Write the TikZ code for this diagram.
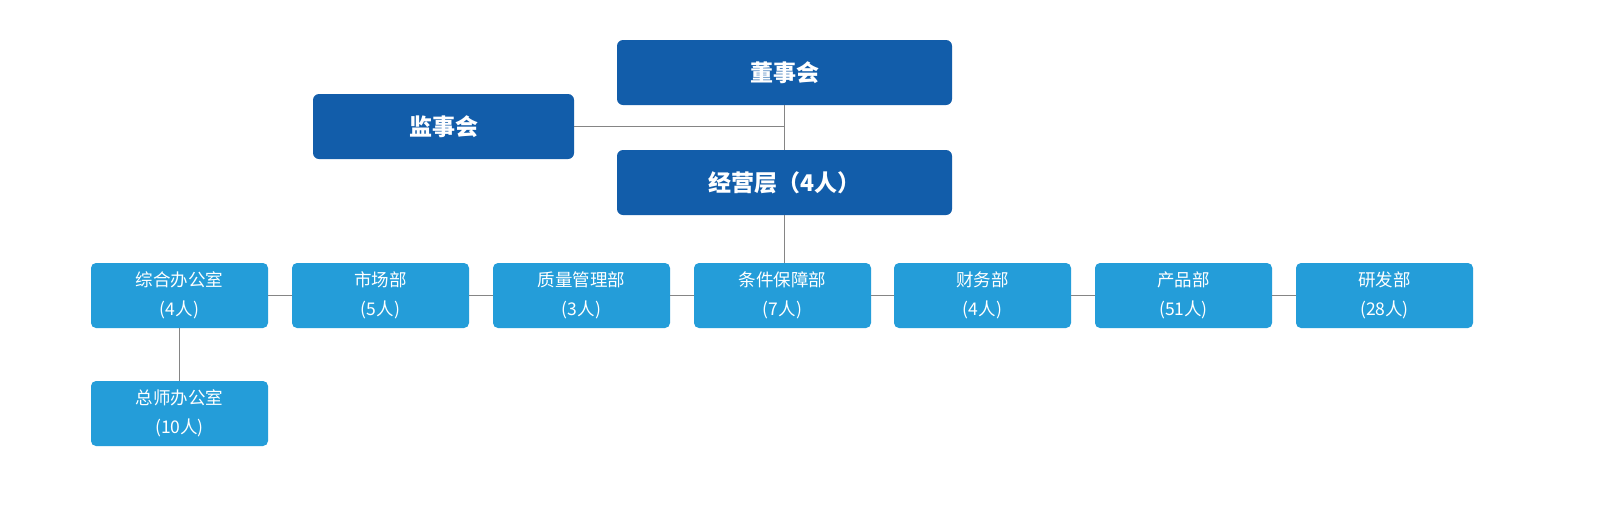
\documentclass[tikz,border=0pt]{standalone}
\usepackage{fontspec}
\newfontfamily\cjk{Noto Sans CJK SC}
\usetikzlibrary{positioning}
\definecolor{dblue}{HTML}{125DAA}
\definecolor{lblue}{HTML}{249DD9}
\definecolor{lgray}{HTML}{858585}
\begin{document}
\begin{tikzpicture}[x=1pt,y=-1pt,
  topbox/.style={fill=dblue,rounded corners=6pt,minimum width=335pt,minimum height=65pt,text=white,font=\cjk\bfseries\fontsize{23}{27}\selectfont,inner sep=0pt},
  depbox/.style={fill=lblue,rounded corners=5pt,minimum width=177pt,minimum height=65pt,text=white,font=\cjk\fontsize{17.5}{28.5}\selectfont,align=center,inner sep=0pt},
  link/.style={draw=lgray,line width=1pt}]
\useasboundingbox[fill=white] (0,0) rectangle (1600,504);
\node[topbox] (dsh) at (784.5,72.5) {董事会};
\node[topbox,minimum width=261pt] (jsh) at (443.5,126.5) {监事会};
\node[topbox] (jyc) at (784.5,182.5) {经营层（4人）};
\node[depbox] (b1) at (179.5,295.5) {综合办公室\\(4人)};
\node[depbox] (b2) at (380.5,295.5) {市场部\\(5人)};
\node[depbox] (b3) at (581.5,295.5) {质量管理部\\(3人)};
\node[depbox] (b4) at (782.5,295.5) {条件保障部\\(7人)};
\node[depbox] (b5) at (982.5,295.5) {财务部\\(4人)};
\node[depbox] (b6) at (1183.5,295.5) {产品部\\(51人)};
\node[depbox] (b7) at (1384.5,295.5) {研发部\\(28人)};
\node[depbox] (b8) at (179.5,413.5) {总师办公室\\(10人)};
\coordinate (jn) at (dsh.south |- jsh.east);
\draw[link] (dsh.south) -- (jyc.north);
\draw[link] (jsh.east) -- (jn);
\draw[link] (jyc.south) -- (jyc.south |- b4.north);
\draw[link] (b1.east) -- (b2.west);
\draw[link] (b2.east) -- (b3.west);
\draw[link] (b3.east) -- (b4.west);
\draw[link] (b4.east) -- (b5.west);
\draw[link] (b5.east) -- (b6.west);
\draw[link] (b6.east) -- (b7.west);
\draw[link] (b1.south) -- (b8.north);
\end{tikzpicture}
\end{document}
